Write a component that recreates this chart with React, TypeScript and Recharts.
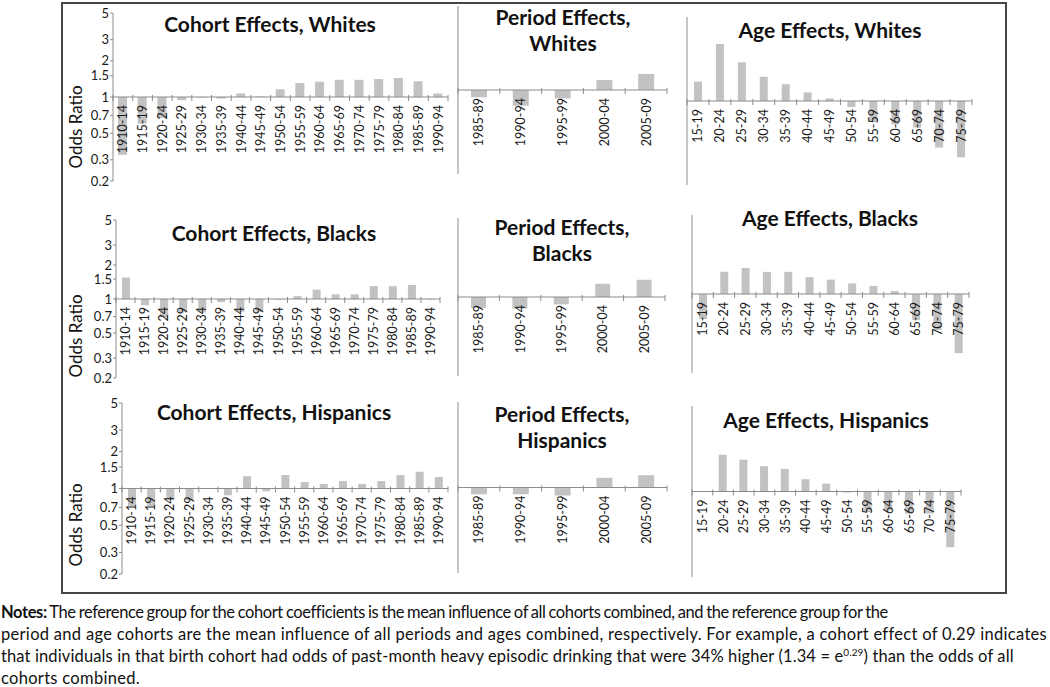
import React from 'react';
import { BarChart, Bar, XAxis, YAxis, ReferenceLine } from 'recharts';

// categories
const cohortCats = ['1910-14', '1915-19', '1920-24', '1925-29', '1930-34', '1935-39', '1940-44', '1945-49', '1950-54',
  '1955-59', '1960-64', '1965-69', '1970-74', '1975-79', '1980-84', '1985-89', '1990-94'];
const periodCats = ['1985-89', '1990-94', '1995-99', '2000-04', '2005-09'];
const ageCats = ['15-19', '20-24', '25-29', '30-34', '35-39', '40-44', '45-49', '50-54', '55-59', '60-64', '65-69', '70-74', '75-79'];

// odds ratios
const cohortWhites = [0.33, 0.6, 0.67, 0.94, 0.99, 0.97, 1.07, 1.01, 1.16, 1.31, 1.34, 1.39, 1.39, 1.41, 1.44, 1.35, 1.07];
const cohortBlacks = [1.55, 0.88, 0.69, 0.76, 0.76, 0.94, 0.77, 0.77, 0.99, 1.06, 1.21, 1.1, 1.1, 1.3, 1.3, 1.33, 0.99];
const cohortHispanics = [0.72, 0.72, 0.81, 0.8, 1.01, 0.88, 1.26, 0.95, 1.29, 1.13, 1.09, 1.15, 1.09, 1.15, 1.29, 1.37, 1.24];
const periodWhites = [0.87, 0.74, 0.85, 1.21, 1.36];
const periodBlacks = [0.8, 0.79, 0.86, 1.31, 1.42];
const periodHispanics = [0.88, 0.88, 0.86, 1.2, 1.26];
const ageWhites = [1.45, 2.98, 2.1, 1.59, 1.38, 1.18, 1.05, 0.89, 0.67, 0.64, 0.6, 0.41, 0.34];
const ageBlacks = [0.6, 1.57, 1.7, 1.57, 1.57, 1.41, 1.34, 1.24, 1.18, 1.06, 0.59, 0.48, 0.3];
const ageHispanics = [1.01, 2.0, 1.82, 1.61, 1.53, 1.26, 1.16, 0.98, 0.68, 0.7, 0.66, 0.66, 0.35];

const oddsTicks = [0.2, 0.3, 0.5, 0.7, 1, 1.5, 2, 3, 5];

const FONT = 'Lato, "Open Sans", sans-serif';
const AXIS = '#8c8c8c';
const BAR = '#c2c2c2';
const PAD = 12;

type PanelProps = {
  cats: string[];
  values: number[];
  x: number; // plot left
  y: number; // plot top
  w: number;
  h: number;
  barSize: number;
  yLabels?: boolean;
};

function Panel({ cats, values, x, y, w, h, barSize, yLabels }: PanelProps) {
  const data = cats.map((c, i) => ({ cat: c, range: [Math.min(1, values[i]), Math.max(1, values[i])] }));
  const yw = yLabels ? 48 : 1;
  const band = w / cats.length;
  const base = PAD + h / 2; // 1 sits in the middle of [0.2, 5] on log scale
  const tick = (p: any) => {
    const { x: tx, payload, index } = p;
    return (
      <g>
        <line x1={tx - band / 2} x2={tx - band / 2} y1={base - 2} y2={base + 4} stroke={AXIS} />
        {index === cats.length - 1 && (
          <line x1={tx + band / 2} x2={tx + band / 2} y1={base - 2} y2={base + 4} stroke={AXIS} />
        )}
        <text
          transform={`translate(${tx + 4.5},${base + 8}) rotate(-90)`}
          textAnchor="end"
          fontSize={12.5}
          fill="#1a1a1a"
          fontFamily={FONT}
        >
          {payload.value}
        </text>
      </g>
    );
  };
  return (
    <div style={{ position: 'absolute', left: x - yw, top: y - PAD }}>
      <BarChart width={yw + w + 6} height={h + 2 + PAD * 2} data={data} margin={{ top: PAD, right: 6, bottom: PAD, left: 0 }}>
        <XAxis dataKey="cat" interval={0} height={2} axisLine={false} tickLine={false} tick={tick} />
        <YAxis
          scale="log"
          type="number"
          domain={[0.2, 5]}
          allowDataOverflow
          ticks={oddsTicks}
          interval={0}
          width={yw}
          stroke={AXIS}
          tickSize={3}
          tickMargin={1}
          tick={yLabels ? { fontSize: 13, fill: '#1a1a1a', fontFamily: FONT } : false}
          tickLine={yLabels ? { stroke: AXIS } : false}
          tickFormatter={(v: number) => String(v)}
        />
        <ReferenceLine y={1} stroke={AXIS} strokeWidth={1.2} />
        <Bar dataKey="range" fill={BAR} barSize={barSize} isAnimationActive={false} />
      </BarChart>
    </div>
  );
}

function Title({ lines, cx, cy }: { lines: string[]; cx: number; cy: number }) {
  return (
    <div
      style={{
        position: 'absolute',
        left: cx,
        top: cy,
        transform: 'translate(-50%, -50%)',
        textAlign: 'center',
        fontFamily: FONT,
        fontWeight: 700,
        fontSize: 21,
        lineHeight: '26px',
        whiteSpace: 'nowrap',
        color: '#111',
      }}
    >
      {lines.map((l) => (
        <div key={l}>{l}</div>
      ))}
    </div>
  );
}

function OddsLabel({ cx, cy }: { cx: number; cy: number }) {
  return (
    <div
      style={{
        position: 'absolute',
        left: cx,
        top: cy,
        transform: 'translate(-50%, -50%) rotate(-90deg)',
        fontFamily: FONT,
        fontSize: 17,
        whiteSpace: 'nowrap',
        color: '#111',
      }}
    >
      Odds Ratio
    </div>
  );
}

export default function App() {
  return (
    <div style={{ position: 'absolute', left: 0, top: 0, width: 1050, height: 687, background: '#fff', overflow: 'hidden' }}>
      <div style={{ position: 'absolute', left: 61, top: 2, width: 942, height: 588, border: '2px solid #444' }} />

      {/* Whites */}
      <Panel cats={cohortCats} values={cohortWhites} x={113} y={13} w={335} h={168} barSize={9} yLabels />
      <Panel cats={periodCats} values={periodWhites} x={458} y={6} w={209} h={168} barSize={16} />
      <Panel cats={ageCats} values={ageWhites} x={687} y={17} w={285} h={168} barSize={8} />
      <Title lines={['Cohort Effects, Whites']} cx={270} cy={24} />
      <Title lines={['Period Effects,', 'Whites']} cx={563} cy={30} />
      <Title lines={['Age Effects, Whites']} cx={830} cy={30} />
      <OddsLabel cx={75} cy={127} />

      {/* Blacks */}
      <Panel cats={cohortCats} values={cohortBlacks} x={116} y={220} w={324} h={158} barSize={8} yLabels />
      <Panel cats={periodCats} values={periodBlacks} x={458} y={218} w={207} h={158} barSize={15} />
      <Panel cats={ageCats} values={ageBlacks} x={692} y={215} w={277} h={158} barSize={8} />
      <Title lines={['Cohort Effects, Blacks']} cx={274} cy={233} />
      <Title lines={['Period Effects,', 'Blacks']} cx={562} cy={240} />
      <Title lines={['Age Effects, Blacks']} cx={830} cy={218} />
      <OddsLabel cx={75} cy={336} />

      {/* Hispanics */}
      <Panel cats={cohortCats} values={cohortHispanics} x={122} y={403} w={326} h={171} barSize={8} yLabels />
      <Panel cats={periodCats} values={periodHispanics} x={458} y={402} w={209} h={171} barSize={16} />
      <Panel cats={ageCats} values={ageHispanics} x={692} y={406} w={269} h={171} barSize={8} />
      <Title lines={['Cohort Effects, Hispanics']} cx={274} cy={412} />
      <Title lines={['Period Effects,', 'Hispanics']} cx={562} cy={427} />
      <Title lines={['Age Effects, Hispanics']} cx={826} cy={420} />
      <OddsLabel cx={75} cy={525} />

      <div
        style={{
          position: 'absolute',
          left: 1,
          top: 601,
          fontFamily: FONT,
          fontSize: 16.5,
          letterSpacing: 0.3,
          lineHeight: '22px',
          color: '#111',
          whiteSpace: 'nowrap',
        }}
      >
        <div style={{ letterSpacing: -0.4, wordSpacing: -0.8 }}>
          <b>Notes:</b> The reference group for the cohort coefficients is the mean influence of all cohorts combined, and the reference group for the
        </div>
        <div>
          period and age cohorts are the mean influence of all periods and ages combined, respectively. For example, a cohort effect of 0.29 indicates
        </div>
        <div style={{ letterSpacing: 0.12 }}>
          that individuals in that birth cohort had odds of past-month heavy episodic drinking that were 34% higher (1.34 = e
          <sup style={{ fontSize: 10, lineHeight: 0 }}>0.29</sup>) than the odds of all
        </div>
        <div>cohorts combined.</div>
      </div>
    </div>
  );
}
